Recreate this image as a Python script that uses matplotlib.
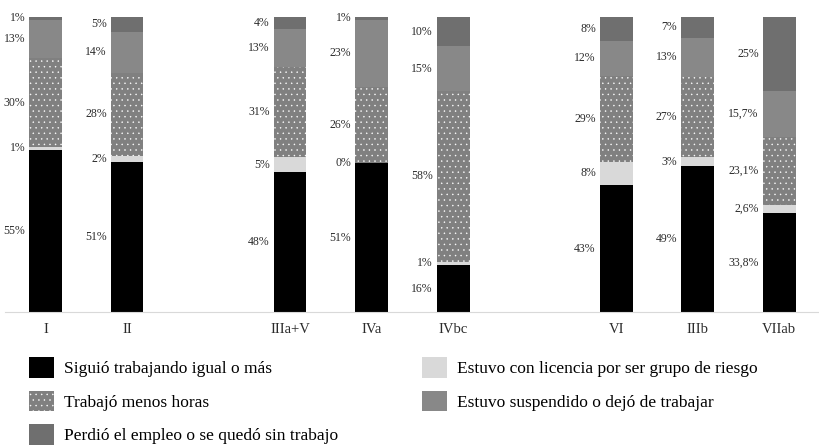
import matplotlib.pyplot as plt
import numpy as np

plt.rcParams['font.family'] = ['Liberation Serif', 'DejaVu Serif']
plt.rcParams['hatch.linewidth'] = 0.3

posiciones = [0, 1, 3, 4, 5, 7, 8, 9]
etiquetas = ['I', 'II', 'IIIa+V', 'IVa', 'IVbc', 'VI', 'IIIb', 'VIIab']

siguio = [55, 51, 48, 51, 16, 43, 49, 33.8]
licencia = [1, 2, 5, 0, 1, 8, 3, 2.6]
menos_horas = [30, 28, 31, 26, 58, 29, 27, 23.1]
suspendido = [13, 14, 13, 23, 15, 12, 13, 15.7]
perdio = [1, 5, 4, 1, 10, 8, 7, 25]

series = [siguio, licencia, menos_horas, suspendido, perdio]
nombres = ['Siguió trabajando igual o más',
           'Estuvo con licencia por ser grupo de riesgo',
           'Trabajó menos horas',
           'Estuvo suspendido o dejó de trabajar',
           'Perdió el empleo o se quedó sin trabajo']
colores = ['#000000', '#d9d9d9', '#808080', '#888888', '#6f6f6f']
tramas = [None, None, '...', None, None]

fig = plt.figure(figsize=(8.2, 4.46), dpi=100)
ax = fig.add_axes([0.006, 0.300, 0.994, 0.662])

datos = np.array(series, dtype=float)
totales = datos.sum(axis=0)
norm = datos / totales * 100

x = np.array(posiciones)
ancho = 0.4
base = np.zeros(len(x))
barras = []
for i in range(len(series)):
    if tramas[i]:
        b = ax.bar(x, norm[i], ancho, bottom=base, color=colores[i],
                   edgecolor='white', linewidth=0, hatch=tramas[i])
    else:
        b = ax.bar(x, norm[i], ancho, bottom=base, color=colores[i],
                   linewidth=0)
    barras.append(b)
    for j in range(len(x)):
        v = series[i][j]
        txt = (str(v).replace('.', ',') if v != int(v) else str(int(v))) + '%'
        ax.annotate(txt, (x[j] - ancho / 2, base[j] + norm[i][j] / 2),
                    xytext=(-3, 0), textcoords='offset points',
                    ha='right', va='center', fontsize=8.5, color='#2b2b2b')
    base = base + norm[i]

ax.set_xlim(-0.5, 9.5)
ax.set_ylim(0, 100)
ax.set_xticks(posiciones)
ax.set_xticklabels(etiquetas, fontsize=10.5, color='#2b2b2b')
ax.tick_params(axis='x', length=0, pad=8)
ax.set_yticks([])
for s in ['top', 'right', 'left']:
    ax.spines[s].set_visible(False)
ax.spines['bottom'].set_color('#d9d9d9')

orden = [0, 2, 4, 1, 3]
fig.legend([barras[k] for k in orden], [nombres[k] for k in orden],
           ncol=2, loc='upper left', bbox_to_anchor=(0.035, 0.199),
           frameon=False, fontsize=12.5, handlelength=1.43, handleheight=1.43,
           handletextpad=0.62, labelspacing=0.76, columnspacing=4.8,
           borderpad=0, borderaxespad=0)

plt.savefig('out.png', dpi=100)
